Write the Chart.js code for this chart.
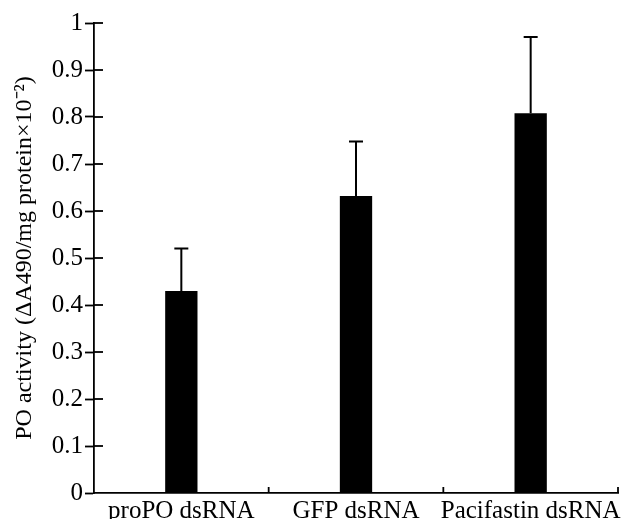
<!DOCTYPE html>
<html>
<head>
<meta charset="utf-8">
<script src="https://cdn.jsdelivr.net/npm/chart.js@4"></script>
<style>
  html, body { margin: 0; padding: 0; background: #fff; }
  #wrap { width: 623px; height: 519px; }
</style>
</head>
<body>
<div id="wrap"><canvas id="poChart" width="623" height="519"></canvas></div>
<script>
// values
const groups = ['proPO dsRNA', 'GFP dsRNA', 'Pacifastin dsRNA'];
const poMeans = [0.43, 0.632, 0.808];
const poErrors = [0.09, 0.116, 0.162];
const yTicks = [0, 0.1, 0.2, 0.3, 0.4, 0.5, 0.6, 0.7, 0.8, 0.9, 1];

const serif = "'Liberation Serif', 'Times New Roman', serif";

// error bars (upper only) + inner halves of the axis ticks
const errorBarPlugin = {
    id: 'errorBars',
    afterDatasetsDraw(chart) {
        const ctx = chart.ctx;
        const x = chart.scales.x;
        const y = chart.scales.y;
        ctx.save();
        ctx.strokeStyle = '#000';
        ctx.lineWidth = 2;
        poMeans.forEach((m, i) => {
            const px = x.getPixelForValue(i);
            const top = y.getPixelForValue(m + poErrors[i]);
            const base = y.getPixelForValue(m);
            ctx.beginPath();
            ctx.moveTo(px, base);
            ctx.lineTo(px, top);
            ctx.moveTo(px - 7, top);
            ctx.lineTo(px + 7, top);
            ctx.stroke();
        });

        // y ticks cross the axis
        ctx.lineWidth = 1.8;
        const left = chart.chartArea.left;
        yTicks.forEach(v => {
            if (v === 0) return;
            const py = y.getPixelForValue(v);
            ctx.beginPath();
            ctx.moveTo(left, py);
            ctx.lineTo(left + 9, py);
            ctx.stroke();
        });

        // x ticks point up, between categories
        const bottom = chart.chartArea.bottom;
        const half = (x.getPixelForValue(1) - x.getPixelForValue(0)) / 2;
        groups.forEach((g, i) => {
            const px = x.getPixelForValue(i) + half;
            ctx.beginPath();
            ctx.moveTo(px, bottom);
            ctx.lineTo(px, bottom - 6);
            ctx.stroke();
        });
        ctx.restore();
    }
};

new Chart(document.getElementById('poChart'), {
    type: 'bar',
    data: {
        labels: groups,
        datasets: [{
            data: poMeans,
            backgroundColor: '#000',
            borderWidth: 0,
            categoryPercentage: 1,
            barPercentage: 0.185
        }]
    },
    options: {
        responsive: false,
        animation: false,
        layout: { padding: { top: 23, right: 5, left: 10, bottom: 0 } },
        plugins: {
            legend: { display: false },
            tooltip: { enabled: false }
        },
        scales: {
            x: {
                grid: { display: false },
                border: { color: '#000', width: 1.8 },
                ticks: {
                    color: '#000',
                    padding: -5,
                    maxRotation: 0,
                    minRotation: 0,
                    autoSkip: false,
                    font: { family: serif, size: 25 }
                },
                afterFit(scale) { scale.height = 26; }
            },
            y: {
                min: 0,
                max: 1,
                afterBuildTicks(scale) { scale.ticks = yTicks.map(v => ({ value: v })); },
                grid: {
                    drawOnChartArea: false,
                    tickLength: 9,
                    tickWidth: 1.8,
                    color: '#000'
                },
                border: { color: '#000', width: 1.8 },
                ticks: {
                    color: '#000',
                    padding: 2,
                    font: { family: serif, size: 25 },
                    callback: v => String(v)
                },
                title: {
                    display: true,
                    text: 'PO activity (\u0394A490/mg protein\u00d710\u207b\u00b2)',
                    color: '#000',
                    padding: { top: 0, bottom: 4 },
                    font: { family: serif, size: 24 }
                },
                afterFit(scale) { scale.width = 84; }
            }
        }
    },
    plugins: [errorBarPlugin]
});
</script>
</body>
</html>
